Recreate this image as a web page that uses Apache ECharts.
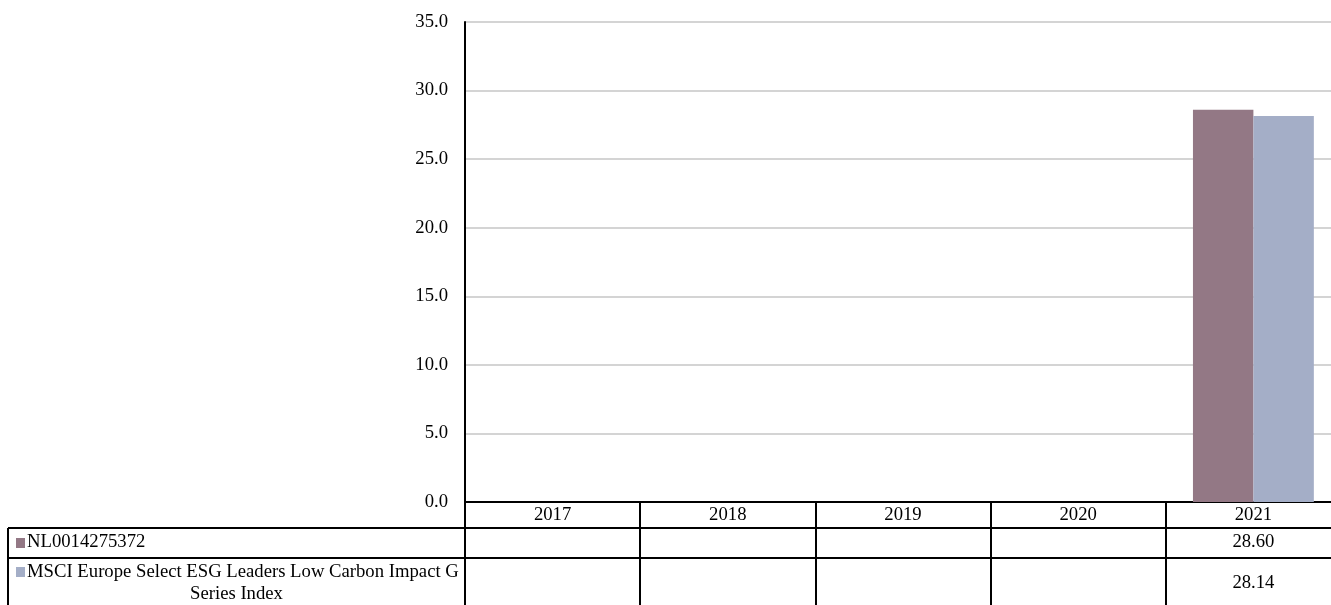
<!DOCTYPE html>
<html>
<head>
<meta charset="utf-8">
<script src="https://cdn.jsdelivr.net/npm/echarts@6/dist/echarts.min.js"></script>
<style>
html,body{margin:0;padding:0;background:#fff;}
#chart{width:1331px;height:605px;}
</style>
</head>
<body>
<div id="chart"></div>
<script>
const categories = ['2017', '2018', '2019', '2020', '2021'];
const seriesNames = ['NL0014275372', 'MSCI Europe Select ESG Leaders Low Carbon Impact G Series Index'];
const fundValues = [null, null, null, null, 28.60];
const indexValues = [null, null, null, null, 28.14];
const yTicks = { min: 0, max: 35, interval: 5 };
const colors = ['#937885', '#a4aec7'];

const FONT = '"Liberation Serif", "Times New Roman", serif';
const FS = 18.7;
const chart = echarts.init(document.getElementById('chart'), null, { renderer: 'canvas' });

const option = {
  animation: false,
  backgroundColor: '#ffffff',
  grid: { left: 465, width: 876, top: 22, bottom: 103, containLabel: false, outerBoundsMode: 'none' },
  xAxis: {
    type: 'category',
    data: categories,
    axisLine: { show: true, lineStyle: { color: '#000', width: 2 } },
    axisTick: { show: true, length: 110, interval: 0, lineStyle: { color: '#000', width: 2 } },
    axisLabel: { color: '#000', fontFamily: FONT, fontSize: FS, margin: 4, interval: 0 },
    splitLine: { show: false }
  },
  yAxis: {
    type: 'value',
    min: yTicks.min, max: yTicks.max, interval: yTicks.interval,
    axisLine: { show: true, lineStyle: { color: '#000', width: 2 } },
    axisTick: { show: false },
    axisLabel: { color: '#000', fontFamily: FONT, fontSize: FS, margin: 17,
      formatter: v => v.toFixed(1) },
    splitLine: { show: true, lineStyle: { color: '#c6c6c6', width: 1.5 } }
  },
  series: [
    { name: seriesNames[0], type: 'bar', data: fundValues, barGap: '0%', barCategoryGap: '31%',
      itemStyle: { color: colors[0] } },
    { name: seriesNames[1], type: 'bar', data: indexValues, barGap: '0%', barCategoryGap: '31%',
      itemStyle: { color: colors[1] } }
  ]
};
chart.setOption(option);

// Data table below the axis
const axisY = chart.convertToPixel({ yAxisIndex: 0 }, 0);
const x0 = chart.convertToPixel({ xAxisIndex: 0 }, categories[0]);
const catW = chart.convertToPixel({ xAxisIndex: 0 }, categories[1]) - x0;
const leftX = x0 - catW / 2;
const rightX = leftX + catW * categories.length;
const row1Top = axisY + 26, row2Top = axisY + 56, tableLeft = 8;
const rows = [
  { values: fundValues, cy: row1Top + 14 },
  { values: indexValues, cy: row2Top + 25 }
];
const font = FS + 'px ' + FONT;
const lineStyle = { stroke: '#000', lineWidth: 2 };
const g = [];
g.push({ type: 'line', shape: { x1: tableLeft, y1: row1Top, x2: rightX, y2: row1Top }, style: lineStyle, silent: true });
g.push({ type: 'line', shape: { x1: tableLeft, y1: row2Top, x2: rightX, y2: row2Top }, style: lineStyle, silent: true });
g.push({ type: 'line', shape: { x1: tableLeft, y1: row1Top, x2: tableLeft, y2: 620 }, style: lineStyle, silent: true });
rows.forEach((r) => {
  r.values.forEach((v, i) => {
    if (v == null) return;
    const cx = chart.convertToPixel({ xAxisIndex: 0 }, categories[i]);
    g.push({ type: 'text', x: cx, y: r.cy, silent: true,
      style: { text: v.toFixed(2), fill: '#000', font: font, align: 'center', verticalAlign: 'middle' } });
  });
});
// legend keys in table
g.push({ type: 'rect', shape: { x: 16, y: row1Top + 10, width: 9, height: 10 }, style: { fill: colors[0] }, silent: true });
g.push({ type: 'text', x: 27, y: row1Top + 14, silent: true,
  style: { text: seriesNames[0], fill: '#000', font: font, align: 'left', verticalAlign: 'middle' } });
g.push({ type: 'rect', shape: { x: 16, y: row2Top + 9, width: 9, height: 10 }, style: { fill: colors[1] }, silent: true });
const words = seriesNames[1].split(' ');
const line1 = words.slice(0, 9).join(' ');
const line2 = words.slice(9).join(' ');
g.push({ type: 'text', x: 27, y: row2Top + 14, silent: true,
  style: { text: line1, fill: '#000', font: font, align: 'left', verticalAlign: 'middle' } });
g.push({ type: 'text', x: (tableLeft + leftX) / 2, y: row2Top + 36, silent: true,
  style: { text: line2, fill: '#000', font: font, align: 'center', verticalAlign: 'middle' } });
chart.setOption({ graphic: g });
</script>
</body>
</html>
